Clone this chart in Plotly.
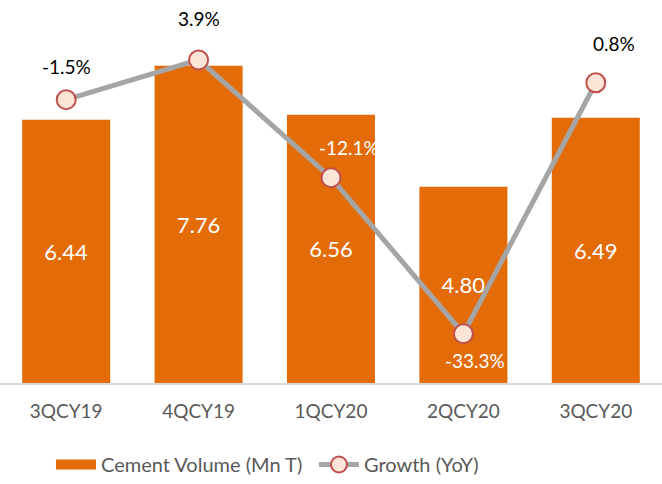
import plotly.graph_objects as go

categories = ["3QCY19", "4QCY19", "1QCY20", "2QCY20", "3QCY20"]
volume = [6.44, 7.76, 6.56, 4.80, 6.49]
growth = [-1.5, 3.9, -12.1, -33.3, 0.8]
growth_labels = ["-1.5%", "3.9%", "-12.1%", "-33.3%", "0.8%"]

label_colors = ["#000000", "#000000", "#FFFFFF", "#FFFFFF", "#000000"]
label_xshift = [0, 0, 18, 12, 18]
label_yshift = [33, 41, 30, -27, 39]

FONT = "Lato, 'Open Sans', sans-serif"
ORANGE = "#E36C09"

fig = go.Figure()
fig.add_trace(go.Bar(
    x=categories, y=volume, name="Cement Volume (Mn T)",
    marker=dict(color=ORANGE, line=dict(width=0)),
    text=[f"{v:.2f}" for v in volume], textposition="inside",
    insidetextanchor="middle",
    textfont=dict(color="white", size=22, family=FONT),
    hoverinfo="skip", showlegend=False,
))
# legend-only entry to get a wide rectangular swatch
fig.add_trace(go.Scatter(
    x=[None], y=[None], name="Cement Volume (Mn T)", mode="lines",
    line=dict(color=ORANGE, width=14), hoverinfo="skip",
))
fig.add_trace(go.Scatter(
    x=categories, y=growth, name="Growth (YoY)", yaxis="y2",
    mode="lines+markers",
    line=dict(color="#A5A5A5", width=5),
    marker=dict(size=19, color="#FCE4D6", line=dict(color="#C0504D", width=2)),
    hoverinfo="skip",
))

for c, g, t, col, xs, ys in zip(categories, growth, growth_labels, label_colors, label_xshift, label_yshift):
    fig.add_annotation(x=c, y=g, yref="y2", text=t, showarrow=False,
                       xshift=xs, yshift=ys,
                       font=dict(color=col, size=19, family=FONT))

fig.update_layout(
    width=662, height=484,
    margin=dict(l=0, r=0, t=15, b=100),
    paper_bgcolor="white", plot_bgcolor="white",
    bargap=0.335,
    font=dict(family=FONT, color="#595959", size=18),
    xaxis=dict(showline=True, linecolor="#D9D9D9", linewidth=2,
               showgrid=False, ticks="", ticklabelstandoff=10,
               tickfont=dict(size=19, color="#595959")),
    yaxis=dict(range=[0, 9], visible=False, showgrid=False),
    yaxis2=dict(range=[-40, 10], overlaying="y", visible=False, showgrid=False),
    showlegend=True,
    legend=dict(orientation="h", x=0.077, xanchor="left", y=-0.222, yanchor="middle",
                font=dict(size=20, color="#595959"), itemwidth=40, traceorder="normal",
                itemsizing="trace", entrywidth=208, entrywidthmode="pixels"),
)

fig.write_html("out.html")
